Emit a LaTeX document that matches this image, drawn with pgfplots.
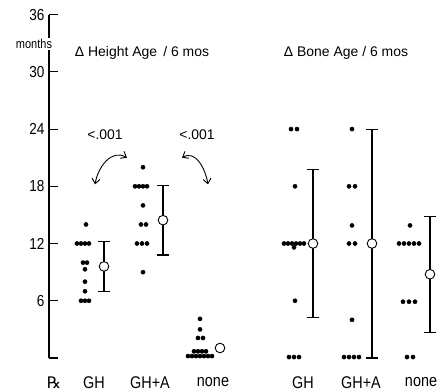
\documentclass[border=0pt]{standalone}
\usepackage{pgfplots}
\pgfplotsset{compat=1.18}
\usepackage{fontspec}
\setmainfont{Liberation Sans}
\newfontfamily\rxfont{DejaVu Sans}
\newfontfamily\condfont{Liberation Sans}[FakeStretch=0.85]
\usetikzlibrary{arrows.meta}
\begin{document}
\begin{tikzpicture}
\begin{axis}[
  scale only axis, width=390bp, height=343.4bp,
  xmin=49, xmax=439, ymin=0, ymax=36,
  axis x line=none, axis y line=left,
  axis line style={-, line width=1.1pt},
  ytick={0,6,12,18,24,30,36},
  yticklabels={,6,12,18,24,30,36},
  tick align=inside, major tick length=9bp,
  ytick style={line width=1.1pt, black},
  yticklabel style={font=\fontsize{16}{16}\selectfont\condfont, xshift=-1bp},
  clip=false,
]
% ---- Height age: individual values
\addplot[only marks, mark=*, mark size=2.1bp, black] coordinates {
 (86,14) (77,12) (81,12) (85,12) (89,12) (83,10) (87,10) (85,9.3) (85,8) (85,7)
 (81,6) (85,6) (89,6)};
\addplot[only marks, mark=*, mark size=2.1bp, black] coordinates {
 (143,20) (135,18) (139,18) (143,18) (147,18) (143,16) (141,14) (146,14)
 (137,12) (142,12) (147,12) (143,9)};
\addplot[only marks, mark=*, mark size=2.1bp, black] coordinates {
 (200,4.1) (200,3) (198,2.1) (203,2.1)
 (194,0.7) (198,0.7) (202,0.7) (206,0.7)
 (188,0.2) (192,0.2) (196,0.2) (200,0.2) (204,0.2) (208,0.2) (212,0.2)};
% ---- Bone age: individual values
\addplot[only marks, mark=*, mark size=2.1bp, black] coordinates {
 (291,24) (297,24) (295,18) (284,12) (288,12) (292,12) (296,12) (300,12) (304,12)
 (294,11.6) (295,6) (289,0.1) (294,0.1) (299,0.1)};
\addplot[only marks, mark=*, mark size=2.1bp, black] coordinates {
 (352,24) (349,18) (355,18) (352,13.9) (349,12) (355,12) (352,4)
 (344,0.1) (349,0.1) (354,0.1) (359,0.1)};
\addplot[only marks, mark=*, mark size=2.1bp, black] coordinates {
 (410,13.9) (399,12) (404,12) (409,12) (414,12) (419,12)
 (403,5.9) (409,5.9) (415,5.9) (407,0.1) (413,0.1)};
% ---- means with error bars
\addplot[black, only marks, mark=*, mark size=4.8bp,
  mark options={fill=white, line width=0.9pt},
  error bars/.cd, y dir=both, y explicit,
  error bar style={line width=1.1pt},
  error mark options={rotate=90, mark size=6bp, line width=1.1pt}]
 coordinates {
 (104,9.6) +- (0,2.6)
 (163,14.45) +- (0,3.65)
 (313,12) +- (0,7.75)
 (372,12) +- (0,12)
 (430,8.78) +- (0,6.08)};
\addplot[black, only marks, mark=*, mark size=4.8bp,
  mark options={fill=white, line width=0.9pt}] coordinates {(220,1.05)};
% ---- annotations
\node[font=\fontsize{13}{13}\selectfont\condfont, fill=white, inner sep=1pt] at (axis cs:34,32.9) {months};
\node[font=\fontsize{14}{14}\selectfont] at (axis cs:142,32) {Δ Height Age \,/ 6 mos};
\node[font=\fontsize{14}{14}\selectfont] at (axis cs:346,32) {Δ Bone Age / 6 mos};
\node[font=\fontsize{14}{14}\selectfont] at (axis cs:105,23.4) {<.001};
\node[font=\fontsize{14}{14}\selectfont] at (axis cs:197,23.4) {<.001};
\draw[line width=0.9pt, {Straight Barb[length=5bp,width=8bp]}-{Straight Barb[length=5bp,width=8bp]}]
  (axis cs:95,18.2) to[out=80, in=150, looseness=1.1] (axis cs:127,21.0);
\draw[line width=0.9pt, {Straight Barb[length=5bp,width=8bp]}-{Straight Barb[length=5bp,width=8bp]}]
  (axis cs:182,21.0) to[out=30, in=100, looseness=1.1] (axis cs:208,18.2);
\node[font=\fontsize{16}{16}\selectfont\rxfont] at (axis cs:54,-2.55) {℞};
\node[font=\fontsize{17}{17}\selectfont\condfont] at (axis cs:94,-2.55) {GH};
\node[font=\fontsize{17}{17}\selectfont\condfont] at (axis cs:150,-2.55) {GH+A};
\node[font=\fontsize{17}{17}\selectfont\condfont] at (axis cs:213,-2.55) {none};
\node[font=\fontsize{17}{17}\selectfont\condfont] at (axis cs:303,-2.55) {GH};
\node[font=\fontsize{17}{17}\selectfont\condfont] at (axis cs:361,-2.55) {GH+A};
\node[font=\fontsize{17}{17}\selectfont\condfont] at (axis cs:421,-2.55) {none};
\coordinate (bl) at (axis cs:0,-3.46);
\coordinate (tr) at (axis cs:439,37.53);
\end{axis}
\pgfresetboundingbox
\path (bl) rectangle (tr);
\end{tikzpicture}
\end{document}
